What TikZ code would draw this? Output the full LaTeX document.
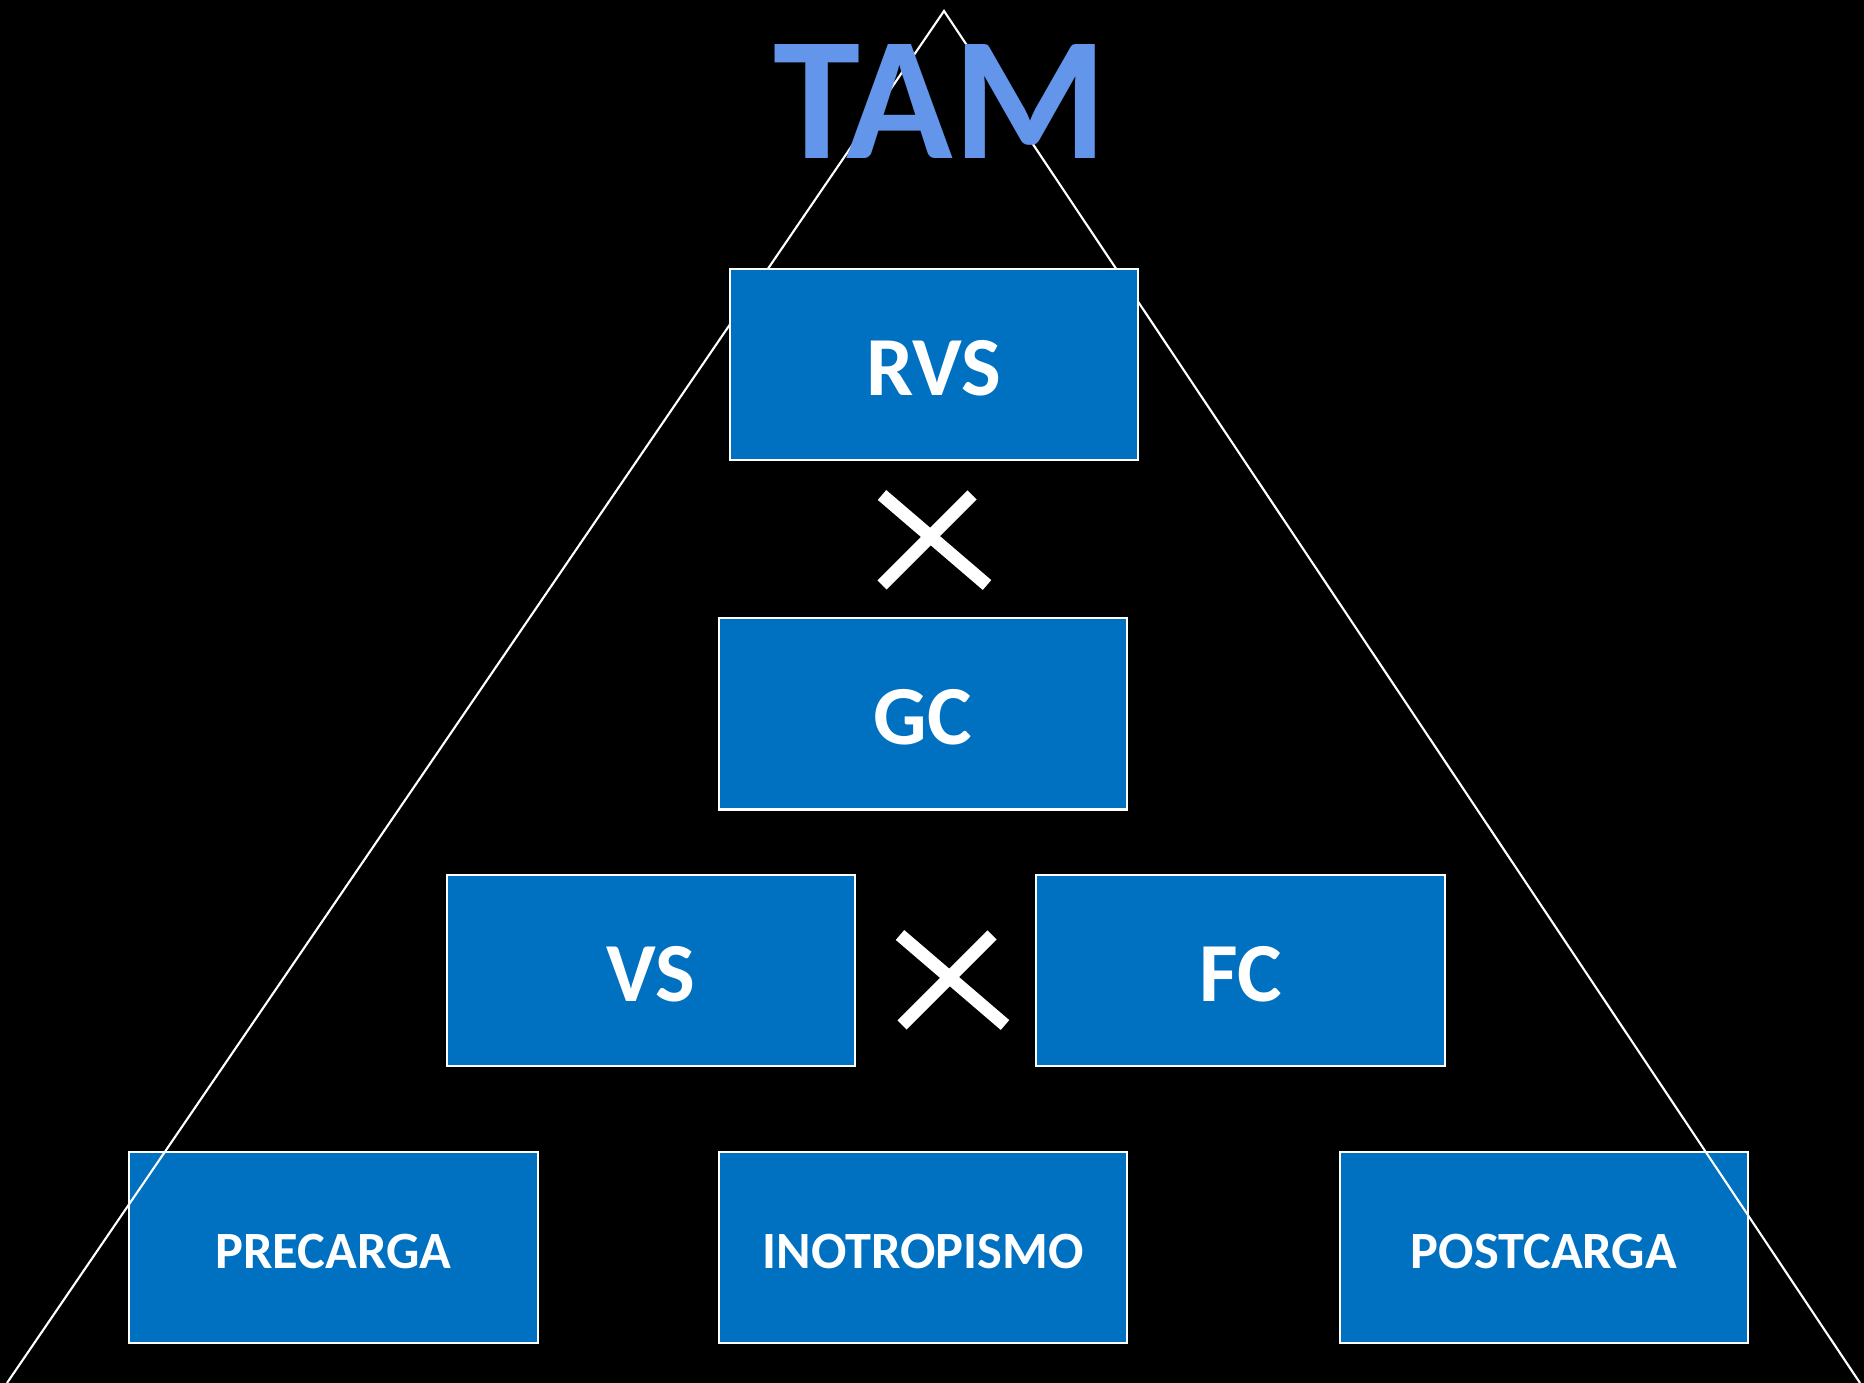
\documentclass[tikz,border=0pt]{standalone}
\usepackage{fontspec}
\setmainfont{Carlito}
\usepackage{tikz}
\definecolor{boxblue}{HTML}{0070C0}
\definecolor{titleblue}{HTML}{6396EB}
\tikzset{
  factor/.style={draw=white, line width=0.6pt, fill=boxblue, text=white,
    font=\bfseries\fontsize{23.9}{26}\selectfont, text height=0.612cm, text depth=0pt,
    minimum width=4.08cm, minimum height=1.91cm, inner sep=0pt},
  smallfactor/.style={factor, font=\bfseries\fontsize{14.9}{17}\selectfont, text height=0.411cm},
  times/.style={draw=white, line width=3.7pt}
}

\begin{document}
\begin{tikzpicture}[x=0.01cm,y=-0.01cm]
          \fill[black] (0,0) rectangle (1864,1383);
          \useasboundingbox (0,0) rectangle (1864,1383);
          % bottom row sits under the triangle
          \node[smallfactor] (PRE) at (333.5,1247.5) {PRECARGA};
          \node[smallfactor] (INO) at (923,1247.5) {INOTROPISMO};
          \node[smallfactor] (POST) at (1544,1247.5) {POSTCARGA};
          \coordinate (top) at (944,11);
          \coordinate (bl) at (7,1383);
          \coordinate (br) at (1860,1383);
          \draw[white, line width=0.6pt] (bl) -- (top) -- (br);
          \node[text=titleblue, font=\bfseries\fontsize{50}{54}\selectfont, inner sep=0pt] (TAM) at (940,102) {TAM};
          \node[factor] (RVS) at (934,364.5) {RVS};
          \node[factor] (GC) at (923,714) {GC};
          \node[factor] (VS) at (651,970.5) {VS};
          \node[factor] (FC) at (1240.5,970.5) {FC};
          \draw[times] (882,495) -- (987,585);
          \draw[times] (972,495) -- (882,585);
          \draw[times] (900,935) -- (1005,1025);
          \draw[times] (992,935) -- (902,1025);
        \end{tikzpicture}
\end{document}
